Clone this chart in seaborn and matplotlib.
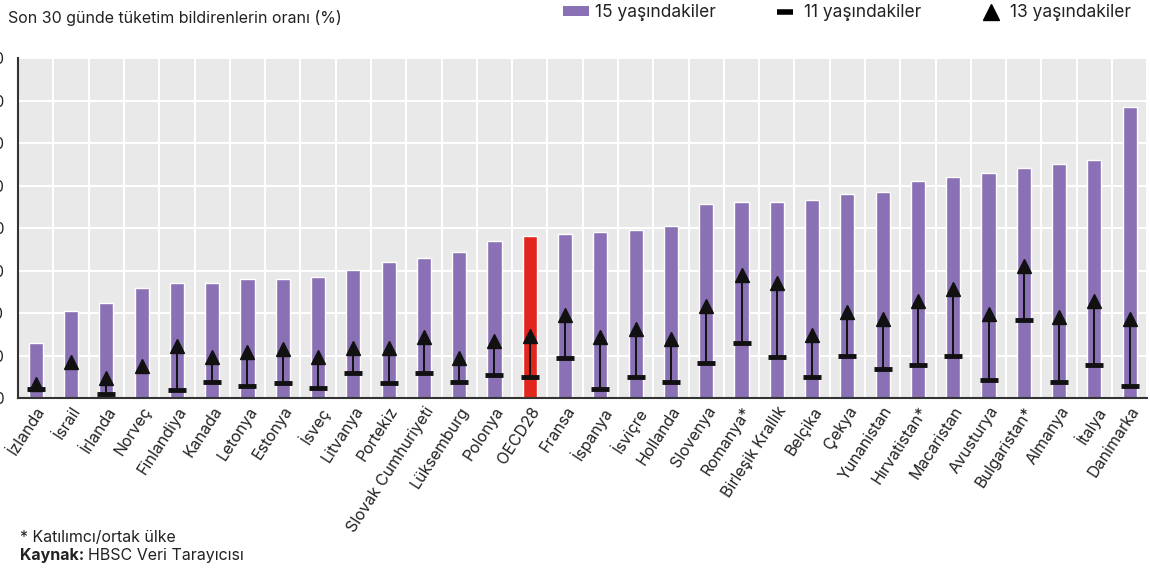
import numpy as np
import pandas as pd
import seaborn as sns
import matplotlib.pyplot as plt
from matplotlib.patches import Patch
from matplotlib.lines import Line2D

# chart data
countries = ["İzlanda", "İsrail", "İrlanda", "Norveç", "Finlandiya", "Kanada", "Letonya",
             "Estonya", "İsveç", "Litvanya", "Portekiz", "Slovak Cumhuriyeti", "Lüksemburg",
             "Polonya", "OECD28", "Fransa", "İspanya", "İsviçre", "Hollanda", "Slovenya",
             "Romanya*", "Birleşik Krallık", "Belçika", "Çekya", "Yunanistan", "Hırvatistan*",
             "Macaristan", "Avusturya", "Bulgaristan*", "Almanya", "İtalya", "Danimarka"]
age15 = [13.0, 20.5, 22.5, 26.0, 27.0, 27.0, 28.1, 28.1, 28.6, 30.1, 32.1, 32.9, 34.4, 37.0,
         38.2, 38.6, 39.0, 39.5, 40.6, 45.6, 46.1, 46.2, 46.6, 48.1, 48.5, 51.0, 52.0, 53.0,
         54.1, 55.1, 56.1, 68.6]
age13 = [3.3, 8.6, 4.7, 7.6, 12.4, 9.8, 10.8, 11.6, 9.8, 11.8, 11.8, 14.3, 9.4, 13.4, 14.7,
         19.7, 14.3, 16.3, 13.9, 21.8, 29.0, 27.0, 14.8, 20.2, 18.7, 22.8, 25.8, 19.9, 31.0,
         19.1, 22.8, 18.7]
age11 = [2.2, np.nan, 0.9, np.nan, 2.0, 3.9, 2.9, 3.5, 2.4, 5.9, 3.5, 6.0, 3.9, 5.5, 5.1,
         9.5, 2.3, 5.0, 3.9, 8.4, 13.1, 9.7, 5.0, 10.0, 6.9, 7.9, 10.0, 4.3, 18.5, 3.8, 7.9, 2.9]
yticks = [0, 10, 20, 30, 40, 50, 60, 70, 80]

title = "Son 30 günde tüketim bildirenlerin oranı (%)"
legend_labels = ["15 yaşındakiler", "11 yaşındakiler", "13 yaşındakiler"]

purple = "#8a70b4"
red = "#e2261e"
txt = "#222222"

df = pd.DataFrame({"country": countries, "age15": age15, "age13": age13, "age11": age11})
pal = {c: (red if c == "OECD28" else purple) for c in countries}

sns.set_style("darkgrid", {"axes.facecolor": "#e9e9e9", "grid.color": "white"})
plt.rcParams["font.family"] = ["Inter", "DejaVu Sans"]

fig = plt.figure(figsize=(11.5, 5.69), dpi=100)
ax = fig.add_axes([0.0157, 0.30, 0.982, 0.598])

sns.barplot(data=df, x="country", y="age15", hue="country", palette=pal, legend=False,
            width=0.4, saturation=1, ax=ax)

# arrows from 11 yr to 13 yr
x = np.arange(len(countries))
ax.vlines(x, df["age11"], df["age13"], color="#111111", lw=1.4, zorder=3)
ax.plot(x, df["age11"], ls="none", marker="_", ms=13, mew=3.5, color="#111111", zorder=4)
ax.plot(x, df["age13"], ls="none", marker="^", ms=10.5, color="#111111", zorder=5)

ax.set_xlim(-0.5, len(countries) - 0.5)
ax.set_ylim(0, 80)
ax.set_yticks(yticks)
ax.set_yticklabels([str(v) for v in yticks])
ax.set_xlabel("")
ax.set_ylabel("")

# vertical grid between categories
ax.set_xticks(x + 0.5, minor=True)
ax.grid(True, which="minor", axis="x", color="white", lw=1.5)
ax.grid(True, which="major", axis="y", color="white", lw=1.5)
ax.grid(False, which="major", axis="x")
ax.tick_params(axis="x", which="major", length=0, pad=4)
ax.tick_params(axis="x", which="minor", direction="in", length=4, width=1.2, color="#333333")
# y labels sit mostly beyond the left edge, as in the source image
ax.tick_params(axis="y", direction="in", length=4, width=1.2, color="#333333",
               labelsize=11, labelcolor=txt, pad=10)
ax.set_xticks(x)
ax.set_xticklabels(countries, rotation=57, ha="right", rotation_mode="anchor",
                   fontsize=11.5, color=txt)

for s in ["top", "right"]:
    ax.spines[s].set_visible(False)
for s in ["left", "bottom"]:
    ax.spines[s].set_visible(True)
    ax.spines[s].set_color("#333333")
    ax.spines[s].set_linewidth(1.5)

fig.text(0.007, 0.968, title, fontsize=11.5, color=txt, va="center", ha="left")

handles = [Patch(facecolor=purple, edgecolor="none"),
           Line2D([], [], ls="none", marker="_", ms=12, mew=4, color="black"),
           Line2D([], [], ls="none", marker="^", ms=12, color="black")]
fig.legend(handles, legend_labels, loc="upper right", bbox_to_anchor=(0.997, 1.02), ncol=3,
           frameon=False, fontsize=12.5, handlelength=1.45, handleheight=0.55,
           columnspacing=3.3, handletextpad=0.35, labelcolor=txt)

fig.text(0.017, 0.056, "* Katılımcı/ortak ülke", fontsize=11.5, color=txt, va="center")
kb = fig.text(0.017, 0.024, "Kaynak:", fontsize=11.5, color=txt, va="center", weight="bold")
fig.canvas.draw()
bb = kb.get_window_extent()
fig.text((bb.x1 + 4) / fig.bbox.width, 0.024, "HBSC Veri Tarayıcısı", fontsize=11.5,
         color=txt, va="center")

fig.savefig("out.png", dpi=100)
